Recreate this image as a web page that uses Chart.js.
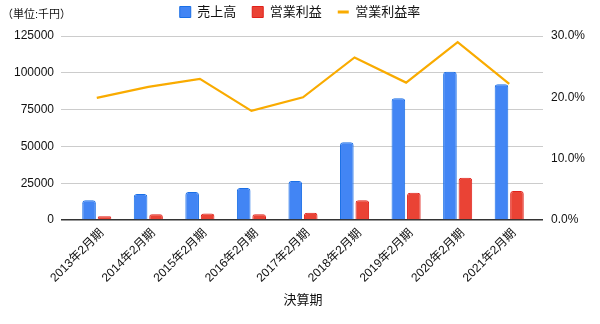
<!DOCTYPE html>
<html>
<head>
<meta charset="utf-8">
<script src="https://cdn.jsdelivr.net/npm/chart.js@4/dist/chart.umd.min.js"></script>
<style>
  html, body { margin: 0; padding: 0; background: #ffffff; }
  #wrap { width: 600px; height: 324px; }
</style>
</head>
<body>
<div id="wrap"><canvas id="c" width="600" height="324"></canvas></div>
<script>
// ---- data ----
const categories = ['2013年2月期', '2014年2月期', '2015年2月期', '2016年2月期', '2017年2月期', '2018年2月期', '2019年2月期', '2020年2月期', '2021年2月期'];
const sales = [13400, 17600, 19000, 21700, 26500, 52800, 82700, 100700, 92200];
const operatingProfit = [2500, 3900, 4500, 3900, 5000, 13400, 18500, 28700, 19700];
const operatingMargin = [19.9, 21.7, 23.0, 17.8, 20.0, 26.5, 22.4, 29.0, 22.2];
const seriesNames = ['売上高', '営業利益', '営業利益率'];
const leftTicks = [0, 25000, 50000, 75000, 100000, 125000];
const rightTicks = [0, 10, 20, 30];
const unitLabel = '（単位:千円）';
const xTitle = '決算期';

const FONT = "'Liberation Sans', Arial, 'Noto Sans CJK JP', sans-serif";
const TEXT = '#111';
Chart.defaults.font.family = FONT;
Chart.defaults.color = TEXT;

const unitPlugin = {
  id: 'unitLabel',
  afterDraw(chart) {
    const ctx = chart.ctx;
    ctx.save();
    ctx.font = "11px " + FONT;
    ctx.fillStyle = TEXT;
    ctx.textAlign = 'left';
    ctx.textBaseline = 'middle';
    ctx.fillText(unitLabel, 2, 15);
    ctx.restore();
  }
};

// inner padding of the category axis inside the plot frame
const innerCategoryPad = {
  id: 'innerCategoryPad',
  afterLayout(chart) {
    const x = chart.scales.x;
    x.left += 10;
    x.right -= 8;
    x.width = x.right - x.left;
    x.configure();
  }
};

new Chart(document.getElementById('c'), {
  type: 'bar',
  data: {
    labels: categories,
    datasets: [
      {
        label: seriesNames[0],
        data: sales,
        yAxisID: 'y',
        backgroundColor: '#4285F4',
        borderColor: '#1a6fe6',
        borderWidth: 1,
        borderRadius: 3,
        borderSkipped: 'bottom',
        categoryPercentage: 0.6,
        barPercentage: 0.88,
        pointStyle: 'rect'
      },
      {
        label: seriesNames[1],
        data: operatingProfit,
        yAxisID: 'y',
        backgroundColor: '#EA4335',
        borderColor: '#e0201a',
        borderWidth: 1,
        borderRadius: 3,
        borderSkipped: 'bottom',
        categoryPercentage: 0.6,
        barPercentage: 0.88,
        pointStyle: 'rect'
      },
      {
        type: 'line',
        label: seriesNames[2],
        data: operatingMargin,
        yAxisID: 'y1',
        borderColor: '#F9AB00',
        backgroundColor: '#F9AB00',
        borderWidth: 2.2,
        pointRadius: 0,
        tension: 0,
        fill: false,
        order: -1,
        pointStyle: 'line'
      }
    ]
  },
  options: {
    responsive: false,
    animation: false,
    layout: { padding: { top: -10.5, left: 0, right: 0, bottom: 0 } },
    plugins: {
      tooltip: { enabled: false },
      legend: {
        position: 'top',
        labels: {
          font: { size: 13 },
          color: TEXT,
          usePointStyle: true,
          pointStyleWidth: 11,
          boxHeight: 11,
          padding: 16,
          sort: (a, b) => a.datasetIndex - b.datasetIndex,
          generateLabels(chart) {
            const items = Chart.defaults.plugins.legend.labels.generateLabels(chart);
            items.forEach(it => { if (it.pointStyle === 'line') it.lineWidth = 3; });
            return items;
          }
        }
      },
      subtitle: {
        display: true,
        text: '',
        weight: 500,
        font: { size: 1 },
        padding: { top: 0, bottom: 6.3 }
      }
    },
    scales: {
      x: {
        grid: { display: false },
        border: { display: false },
        ticks: {
          autoSkip: false,
          minRotation: 45,
          maxRotation: 45,
          padding: -2,
          labelOffset: 5,
          font: { size: 12 },
          color: TEXT
        },
        title: {
          display: true,
          text: xTitle,
          font: { size: 13 },
          color: TEXT,
          padding: { top: 0, bottom: 16 }
        },
        afterFit(s) { s.height = 104; }
      },
      y: {
        position: 'left',
        min: 0,
        max: 125000,
        afterBuildTicks(s) { s.ticks = leftTicks.map(v => ({ value: v })); },
        grid: {
          drawTicks: false,
          color: c => (c.tick && c.tick.value === 0) ? '#333' : '#cccccc',
          lineWidth: c => (c.tick && c.tick.value === 0) ? 1.5 : 1
        },
        border: { display: false },
        ticks: {
          padding: 7,
          font: { size: 12 },
          color: TEXT,
          callback: v => String(v)
        },
        afterFit(s) { s.width = 61; }
      },
      y1: {
        position: 'right',
        min: 0,
        max: 30,
        afterBuildTicks(s) { s.ticks = rightTicks.map(v => ({ value: v })); },
        grid: { display: false, drawTicks: false },
        border: { display: false },
        ticks: {
          padding: 8,
          font: { size: 12 },
          color: TEXT,
          callback: v => Number(v).toFixed(1) + '%'
        },
        afterFit(s) { s.width = 57; }
      }
    }
  },
  plugins: [innerCategoryPad, unitPlugin]
});
</script>
</body>
</html>
